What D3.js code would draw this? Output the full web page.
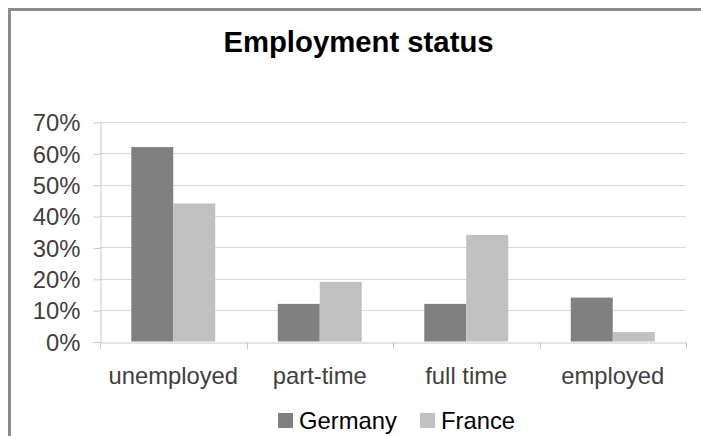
<!DOCTYPE html>
<html>
<head>
<meta charset="utf-8">
<script src="https://cdn.jsdelivr.net/npm/d3@7"></script>
<style>
  html, body { margin: 0; padding: 0; background: #fff; }
  svg { display: block; font-family: "Liberation Sans", Arial, sans-serif; }
</style>
</head>
<body>
<svg id="chart" width="701" height="436"></svg>
<script>
// Employment status by country, share of respondents
const categories = ["unemployed", "part-time", "full time", "employed"];
const seriesNames = ["Germany", "France"];
const germany = [0.62, 0.12, 0.12, 0.14];
const france = [0.44, 0.19, 0.34, 0.03];
const yTicks = [0, 0.1, 0.2, 0.3, 0.4, 0.5, 0.6, 0.7];
const colors = ["#808080", "#c0c0c0"];

const values = [germany, france];
const rows = categories.map((c, i) => ({ category: c, vals: values.map(v => v[i]) }));

const svg = d3.select("#chart");
const W = 701, H = 436;
const plot = { left: 100, right: 686, top: 122, bottom: 341.5 };
const labelSize = 23.8;

// Chart frame
svg.append("path")
  .attr("d", `M9.5,${H + 2}V9.5H${W + 2}`)
  .attr("fill", "none")
  .attr("stroke", "#8c8c8c")
  .attr("stroke-width", 3);

// Title
svg.append("text")
  .attr("x", 358.5).attr("y", 52)
  .attr("text-anchor", "middle")
  .attr("font-weight", "bold")
  .attr("font-size", 29.3)
  .attr("fill", "#000")
  .text("Employment status");

const x = d3.scaleBand().domain(categories).range([plot.left, plot.right]).padding(0);
const xInner = d3.scaleBand().domain(seriesNames)
  .range([0, x.bandwidth()]).paddingInner(0).paddingOuter(0.745);
const y = d3.scaleLinear().domain([0, 0.7]).range([plot.bottom, plot.top]);

// Gridlines
svg.append("g")
  .selectAll("line")
  .data(yTicks.filter(t => t > 0))
  .join("line")
  .attr("x1", plot.left).attr("x2", plot.right)
  .attr("y1", d => Math.round(y(d)) + 0.5).attr("y2", d => Math.round(y(d)) + 0.5)
  .attr("stroke", "#d9d9d9").attr("stroke-width", 1);

// Y axis
const yAxis = svg.append("g")
  .attr("transform", `translate(${plot.left + 0.5},0.5)`)
  .call(d3.axisLeft(y).tickValues(yTicks).tickFormat(d3.format(".0%")).tickSize(7).tickPadding(13).tickSizeOuter(0));
yAxis.select(".domain").attr("stroke", "#c8c8c8");
yAxis.selectAll(".tick line").attr("stroke", "#c8c8c8");
yAxis.selectAll(".tick text")
  .attr("font-size", labelSize)
  .attr("dy", "0.35em")
  .attr("fill", "#404040")
  .attr("font-family", "Liberation Sans, Arial, sans-serif");

// Bars
const groups = svg.append("g")
  .selectAll("g")
  .data(rows)
  .join("g")
  .attr("transform", d => `translate(${x(d.category)},0)`);

groups.selectAll("rect")
  .data(d => d.vals.map((v, i) => ({ name: seriesNames[i], value: v, idx: i })))
  .join("rect")
  .attr("x", d => xInner(d.name))
  .attr("width", xInner.bandwidth())
  .attr("y", d => y(d.value))
  .attr("height", d => y(0) - y(d.value))
  .attr("fill", d => colors[d.idx]);

// X axis
const xAxis = svg.append("g")
  .attr("transform", `translate(0,${Math.round(plot.bottom) + 0.5})`)
  .call(d3.axisBottom(x).tickSize(0).tickPadding(24.5).tickSizeOuter(0));
xAxis.select(".domain").attr("stroke", "#c8c8c8");
xAxis.selectAll(".tick text")
  .attr("font-size", labelSize)
  .attr("fill", "#404040")
  .attr("font-family", "Liberation Sans, Arial, sans-serif");

// Category separators below the axis
const sepPos = categories.map(c => x(c)).concat([plot.right]);
xAxis.append("g")
  .selectAll("line")
  .data(sepPos)
  .join("line")
  .attr("x1", d => Math.round(d) + 0.5).attr("x2", d => Math.round(d) + 0.5)
  .attr("y1", 0).attr("y2", 7)
  .attr("stroke", "#c8c8c8");

// Legend
const legendItems = [
  { name: seriesNames[0], sx: 278, tx: 299 },
  { name: seriesNames[1], sx: 420, tx: 441 }
];
const legend = svg.append("g").selectAll("g").data(legendItems).join("g");
legend.append("rect")
  .attr("x", d => d.sx).attr("y", 413)
  .attr("width", 15).attr("height", 15)
  .attr("fill", (d, i) => colors[i]);
legend.append("text")
  .attr("x", d => d.tx).attr("y", 428.5)
  .attr("font-size", labelSize)
  .attr("fill", "#000")
  .text(d => d.name);
</script>
</body>
</html>
